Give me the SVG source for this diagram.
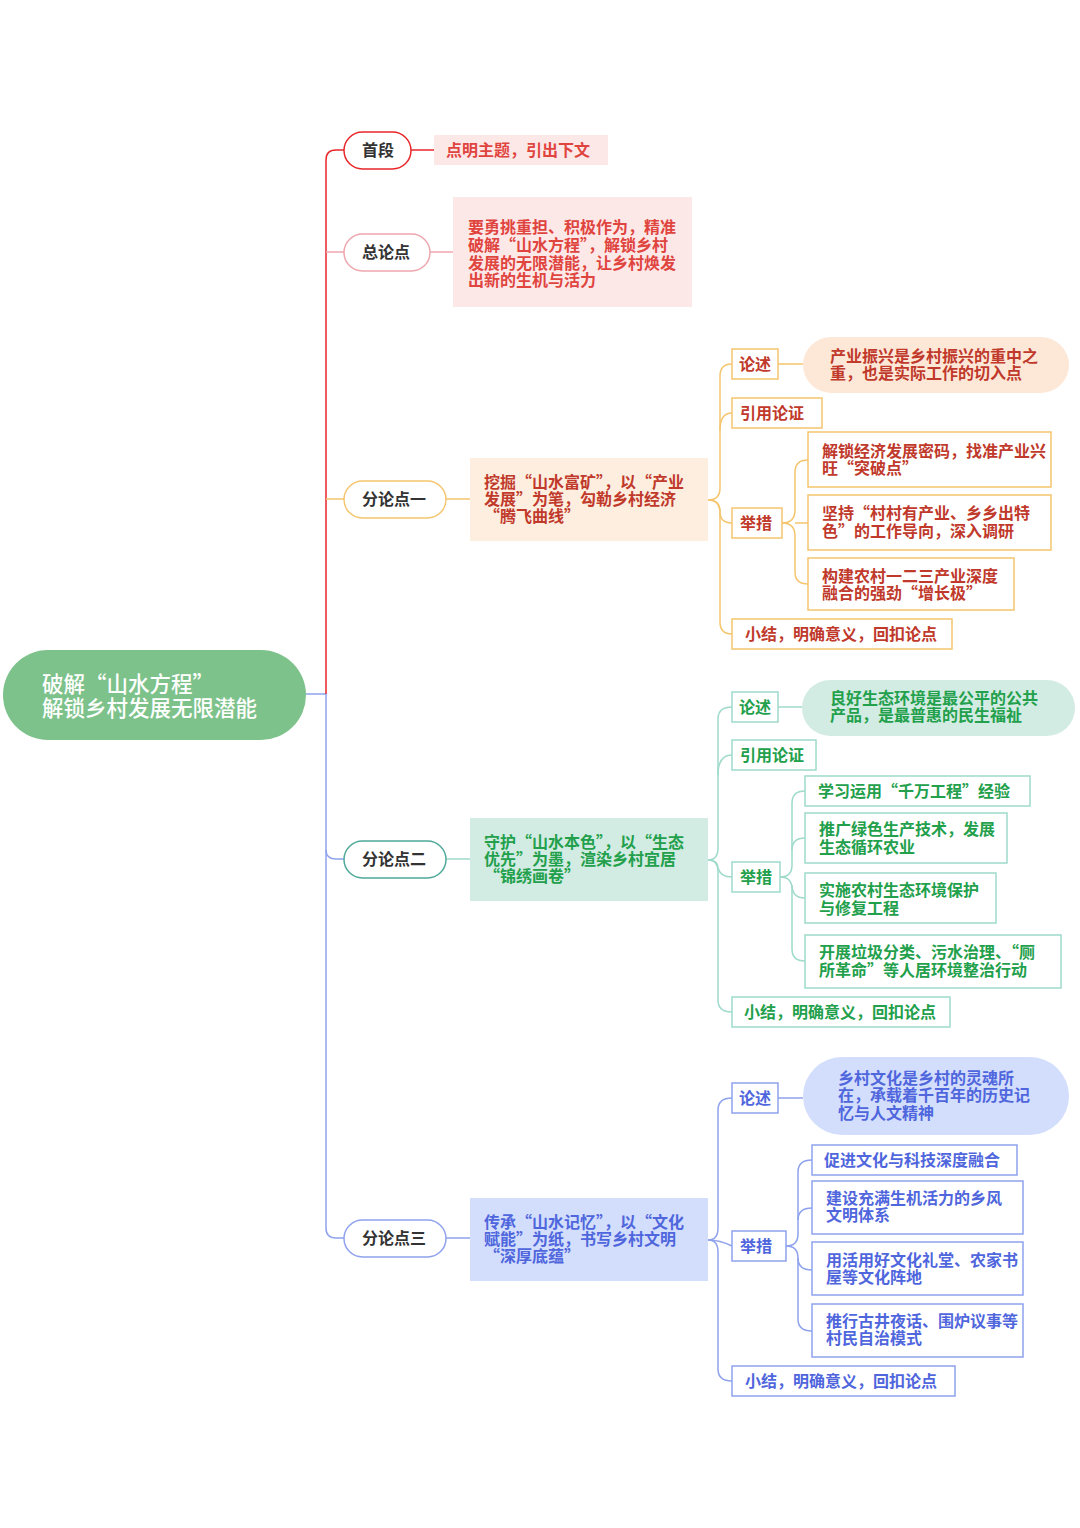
<svg xmlns="http://www.w3.org/2000/svg" width="1080" height="1528" viewBox="0 0 1080 1528">
<style>
text{font-family:"Noto Sans CJK SC","Noto Sans",sans-serif;font-weight:700;font-size:16px}
.lbl{fill:#333;font-size:16px}
.pill{fill:#fff;stroke-width:1.5}
.c{fill:none;stroke-width:1.5}
.r{stroke:#e8262a}.rp{stroke:#eea6ae}.o{stroke:#f5c56e}.g{stroke:#9fdacb}.b{stroke:#8fa2ee}
.tr{fill:#e0443e}.to{fill:#c0392b}.tg{fill:#22a04b}.tb{fill:#4f66dd}
.bo{fill:#fff;stroke:#f5c56e;stroke-width:1.5}.bg{fill:#fff;stroke:#9fdacb;stroke-width:1.5}.bb{fill:#fff;stroke:#8fa2ee;stroke-width:1.5}
.root{fill:#fff;font-family:"Noto Sans CJK SC",sans-serif;font-weight:500;font-size:21.5px}
</style>
<g id="connectors">
<path class="c b" d="M306 694 L326 694 L326 1228 Q326 1238 336 1238 L344 1238"/>
<path class="c b" d="M326 850 Q326 859 336 859 L344 859"/>
<path class="c r" d="M326 694 L326 160 Q326 150 336 150 L344 150"/>
<path class="c rp" d="M326 252 L344 252"/>
<path class="c o" d="M326 499 L344 499"/>
<path class="c r" d="M411 150 L434 150"/>
<path class="c rp" d="M430 252 L453 252"/>
<path class="c o" d="M446 499 L470 499"/>
<path class="c g" d="M446 859 L470 859"/>
<path class="c b" d="M446 1238 L470 1238"/>
<g class="c o">
<path d="M708 500 Q720 500 720 488 L720 376 Q720 364 732 364"/>
<path d="M720 430 Q720 413 732 413"/>
<path d="M708 500 Q720 500 720 512 Q720 523 732 523"/>
<path d="M708 500 Q720 500 720 512 L720 622 Q720 634 732 634"/>
<path d="M778 364 L803 364"/>
<path d="M782 523 Q795 523 795 510 L795 472 Q795 460 808 460"/>
<path d="M795 523 L808 523"/>
<path d="M782 523 Q795 523 795 536 L795 572 Q795 584 808 584"/>
</g>
<g class="c g">
<path d="M708 860 Q718 860 718 848 L718 719 Q718 707 732 707"/>
<path d="M718 775 Q718 755 732 755"/>
<path d="M708 860 Q718 860 718 868 Q720 877 732 877"/>
<path d="M708 860 Q718 860 718 872 L718 1000 Q718 1012 732 1012"/>
<path d="M778 707 L802 707"/>
<path d="M780 877 Q792 877 792 865 L792 803 Q792 791 805 791"/>
<path d="M792 850 Q792 838 805 838"/>
<path d="M792 885 Q792 898 805 898"/>
<path d="M780 877 Q792 877 792 889 L792 949 Q792 961 805 961"/>
</g>
<g class="c b">
<path d="M708 1240 Q718 1240 718 1228 L718 1110 Q718 1098 732 1098"/>
<path d="M708 1240 Q720 1240 732 1246"/>
<path d="M708 1240 Q718 1240 718 1252 L718 1369 Q718 1381 732 1381"/>
<path d="M778 1098 L803 1098"/>
<path d="M786 1246 Q798 1246 798 1234 L798 1172 Q798 1160 812 1160"/>
<path d="M798 1220 Q798 1208 812 1208"/>
<path d="M798 1258 Q798 1270 812 1270"/>
<path d="M786 1246 Q798 1246 798 1258 L798 1319 Q798 1331 812 1331"/>
</g>
</g>
<g id="root">
<rect x="3" y="650" width="303" height="90" rx="45" fill="#7dc28b"/>
<text class="root" x="42" y="692">破解“山水方程”</text>
<text class="root" x="42" y="716">解锁乡村发展无限潜能</text>
</g>
<g id="shouduan">
<rect class="pill r" x="344" y="132" width="67" height="37" rx="18.5"/>
<text class="lbl" x="362" y="156">首段</text>
<rect x="434" y="135" width="174" height="30" fill="#fde8e8"/>
<text class="tr" x="446" y="156">点明主题，引出下文</text>
</g>
<g id="zonglundian">
<rect class="pill rp" x="344" y="234" width="86" height="37" rx="18.5"/>
<text class="lbl" x="362" y="258">总论点</text>
<rect x="453" y="197" width="239" height="110" fill="#fde8e8"/>
<text class="tr" x="468" y="233">要勇挑重担、积极作为，精准</text>
<text class="tr" x="468" y="251">破解“山水方程”，解锁乡村</text>
<text class="tr" x="468" y="269">发展的无限潜能，让乡村焕发</text>
<text class="tr" x="468" y="286">出新的生机与活力</text>
</g>
<g id="fen1">
<rect class="pill o" x="344" y="481" width="102" height="37" rx="18.5"/>
<text class="lbl" x="362" y="505">分论点一</text>
<rect x="470" y="458" width="238" height="83" fill="#fdeee0"/>
<text class="to" x="484" y="488">挖掘“山水富矿”，以“产业</text>
<text class="to" x="484" y="505">发展”为笔，勾勒乡村经济</text>
<text class="to" x="484" y="522">“腾飞曲线”</text>
</g>
<g id="fen1-sub">
<rect class="bo" x="732" y="349" width="46" height="30"/><text class="to" x="739" y="370">论述</text>
<rect x="803" y="337" width="266" height="56" rx="28" fill="#fde8d8"/>
<text class="to" x="830" y="362">产业振兴是乡村振兴的重中之</text>
<text class="to" x="830" y="379">重，也是实际工作的切入点</text>
<rect class="bo" x="732" y="398" width="90" height="30"/><text class="to" x="740" y="419">引用论证</text>
<rect class="bo" x="732" y="508" width="50" height="30"/><text class="to" x="740" y="529">举措</text>
<rect class="bo" x="808" y="432" width="243" height="55"/>
<text class="to" x="822" y="457">解锁经济发展密码，找准产业兴</text>
<text class="to" x="822" y="474">旺“突破点”</text>
<rect class="bo" x="808" y="495" width="243" height="55"/>
<text class="to" x="822" y="519">坚持“村村有产业、乡乡出特</text>
<text class="to" x="822" y="537">色”的工作导向，深入调研</text>
<rect class="bo" x="808" y="558" width="206" height="52"/>
<text class="to" x="822" y="582">构建农村一二三产业深度</text>
<text class="to" x="822" y="599">融合的强劲“增长极”</text>
<rect class="bo" x="732" y="619" width="220" height="30"/><text class="to" x="745" y="640">小结，明确意义，回扣论点</text>
</g>
<g id="fen2">
<rect class="pill" stroke="#4fa99a" x="344" y="841" width="102" height="37" rx="18.5"/>
<text class="lbl" x="362" y="865">分论点二</text>
<rect x="470" y="818" width="238" height="83" fill="#d2ece4"/>
<text class="tg" x="484" y="848">守护“山水本色”，以“生态</text>
<text class="tg" x="484" y="865">优先”为墨，渲染乡村宜居</text>
<text class="tg" x="484" y="882">“锦绣画卷”</text>
</g>
<g id="fen2-sub">
<rect class="bg" x="732" y="692" width="46" height="30"/><text class="tg" x="739" y="713">论述</text>
<rect x="802" y="680" width="273" height="56" rx="28" fill="#d2ece4"/>
<text class="tg" x="830" y="704">良好生态环境是最公平的公共</text>
<text class="tg" x="830" y="721">产品，是最普惠的民生福祉</text>
<rect class="bg" x="732" y="740" width="84" height="30"/><text class="tg" x="740" y="761">引用论证</text>
<rect class="bg" x="732" y="862" width="48" height="30"/><text class="tg" x="740" y="883">举措</text>
<rect class="bg" x="805" y="776" width="225" height="30"/><text class="tg" x="818" y="797">学习运用“千万工程”经验</text>
<rect class="bg" x="805" y="813" width="202" height="50"/>
<text class="tg" x="819" y="835">推广绿色生产技术，发展</text>
<text class="tg" x="819" y="853">生态循环农业</text>
<rect class="bg" x="805" y="873" width="191" height="50"/>
<text class="tg" x="819" y="896">实施农村生态环境保护</text>
<text class="tg" x="819" y="914">与修复工程</text>
<rect class="bg" x="805" y="935" width="256" height="53"/>
<text class="tg" x="819" y="958">开展垃圾分类、污水治理、“厕</text>
<text class="tg" x="819" y="976">所革命”等人居环境整治行动</text>
<rect class="bg" x="732" y="997" width="218" height="30"/><text class="tg" x="744" y="1018">小结，明确意义，回扣论点</text>
</g>
<g id="fen3">
<rect class="pill b" x="344" y="1220" width="102" height="37" rx="18.5"/>
<text class="lbl" x="362" y="1244">分论点三</text>
<rect x="470" y="1198" width="238" height="83" fill="#d3defc"/>
<text class="tb" x="484" y="1228">传承“山水记忆”，以“文化</text>
<text class="tb" x="484" y="1245">赋能”为纸，书写乡村文明</text>
<text class="tb" x="484" y="1262">“深厚底蕴”</text>
</g>
<g id="fen3-sub">
<rect class="bb" x="732" y="1083" width="46" height="30"/><text class="tb" x="739" y="1104">论述</text>
<rect x="803" y="1057" width="266" height="78" rx="39" fill="#d3defc"/>
<text class="tb" x="838" y="1084">乡村文化是乡村的灵魂所</text>
<text class="tb" x="838" y="1101">在，承载着千百年的历史记</text>
<text class="tb" x="838" y="1119">忆与人文精神</text>
<rect class="bb" x="732" y="1231" width="54" height="30"/><text class="tb" x="740" y="1252">举措</text>
<rect class="bb" x="812" y="1145" width="205" height="30"/><text class="tb" x="824" y="1166">促进文化与科技深度融合</text>
<rect class="bb" x="812" y="1181" width="211" height="53"/>
<text class="tb" x="826" y="1204">建设充满生机活力的乡风</text>
<text class="tb" x="826" y="1221">文明体系</text>
<rect class="bb" x="812" y="1242" width="211" height="53"/>
<text class="tb" x="826" y="1266">用活用好文化礼堂、农家书</text>
<text class="tb" x="826" y="1283">屋等文化阵地</text>
<rect class="bb" x="812" y="1304" width="211" height="53"/>
<text class="tb" x="826" y="1327">推行古井夜话、围炉议事等</text>
<text class="tb" x="826" y="1344">村民自治模式</text>
<rect class="bb" x="732" y="1366" width="223" height="30"/><text class="tb" x="745" y="1387">小结，明确意义，回扣论点</text>
</g>
</svg>
